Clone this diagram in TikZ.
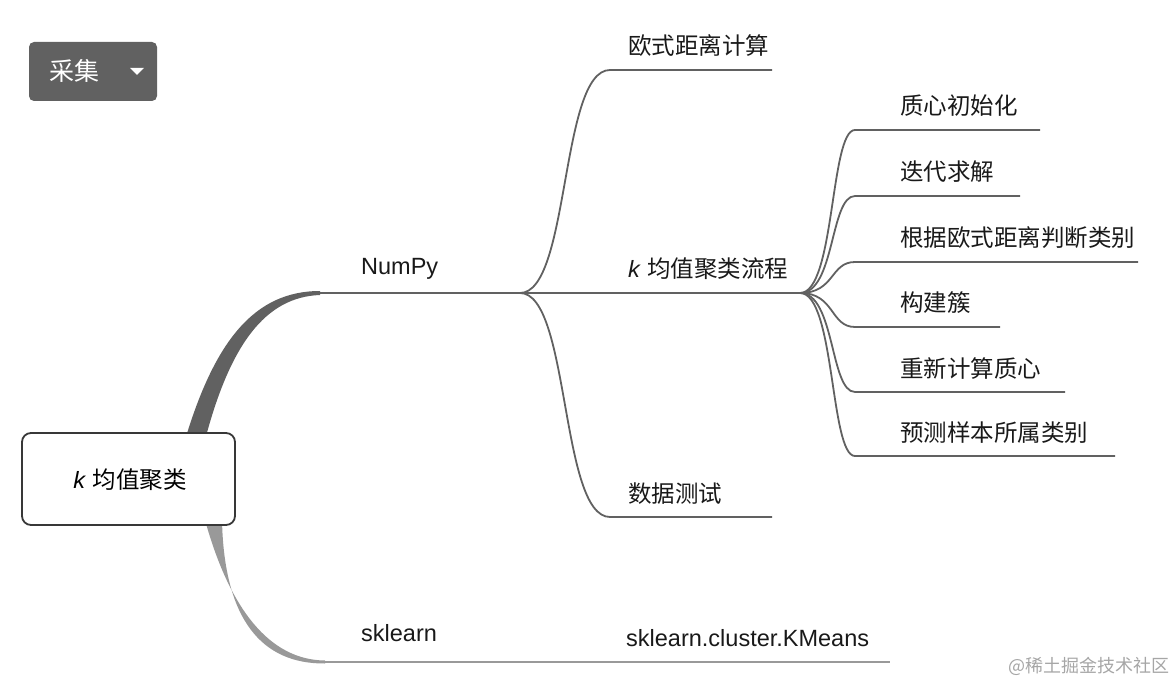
\documentclass[tikz,border=0pt]{standalone}
\usepackage{fontspec}
\setmainfont{Liberation Sans}
\newfontfamily\cjk{Noto Sans CJK SC}
\begin{document}
\begin{tikzpicture}[x=1pt,y=-1pt,
  lbl/.style={anchor=base west,inner sep=0pt,font=\fontsize{23.5}{26}\selectfont,text=black!90},
  ln/.style={draw=black!62,line width=1.8pt},
  cv/.style={draw=black!62,line width=1.8pt}]
\useasboundingbox (0,0) rectangle (1174,684);
% button
\node[fill=black!62,rounded corners=5pt,minimum width=128pt,minimum height=59pt,inner sep=0pt] (btn) at (93,71.5) {};
\node[text=white,font=\fontsize{25}{28}\selectfont\cjk,inner sep=0pt] (btnt) at (74,71) {采集};
\fill[white] (130,68) -- (144,68) -- (137,75) -- cycle;
% tapered main branches
\fill[black!62] (185,440) .. controls (215,340) and (255,291) .. (320,291) -- (320,295) .. controls (265,297) and (230,345) .. (205,440) -- cycle;
\fill[black!40] (205,520) .. controls (230,610) and (270,660) .. (325,660.5) -- (325,663.5) .. controls (262,664) and (224,620) .. (222,520) -- cycle;
% root
\node[draw=black!78,line width=1.8pt,fill=white,rounded corners=9pt,minimum width=213pt,minimum height=92pt,inner sep=0pt] (root) at (128.5,479) {};
\node[font=\fontsize{23.5}{26}\selectfont,inner sep=0pt] (roott) at (130,480) {\textit{k} {\cjk 均值聚类}};
% level 1
\coordinate (n0) at (320,293);
\coordinate (n1) at (520,293);
\node[lbl] (numpy) at (361,275) {NumPy};
\draw[ln] (n0) -- (n1);
\coordinate (s0) at (325,662);
\coordinate (s1) at (890,662);
\node[lbl] (skl) at (361,641) {sklearn};
\node[lbl] (km) at (626,646) {sklearn.cluster.KMeans};
\draw[draw=black!40,line width=1.8pt] (s0) -- (s1);
% level 2
\coordinate (a0) at (610,70); \coordinate (a1) at (772,70);
\node[lbl] (ta) at (628,55) {\cjk 欧式距离计算};
\coordinate (b1) at (800,293);
\node[lbl] (tb) at (628,278) {\textit{k} {\cjk 均值聚类流程}};
\coordinate (c0) at (610,517); \coordinate (c1) at (772,517);
\node[lbl] (tc) at (628,502) {\cjk 数据测试};
\draw[cv] (n1) .. controls (570,293) and (560,70) .. (a0) -- (a1);
\draw[cv] (n1) -- (b1);
\draw[cv] (n1) .. controls (570,293) and (560,517) .. (c0) -- (c1);
% level 3
\foreach \i/\y/\e/\t in {1/130/1040/质心初始化,2/196/1020/迭代求解,3/262/1138/根据欧式距离判断类别,4/327/1000/构建簇,5/392/1065/重新计算质心,6/456/1115/预测样本所属类别}{
  \coordinate (d\i a) at (855,\y);
  \coordinate (d\i b) at (\e,\y);
  \node[lbl] (d\i t) at (900,\y-15) {\cjk\t};
  \draw[cv] (b1) .. controls (835,293) and (830,\y) .. (d\i a) -- (d\i b);
}
% watermark
\node[anchor=east,inner sep=0pt,font=\fontsize{18}{20}\selectfont\cjk,text=black!35] (wm) at (1170,666) {@稀土掘金技术社区};
\end{tikzpicture}
\end{document}
